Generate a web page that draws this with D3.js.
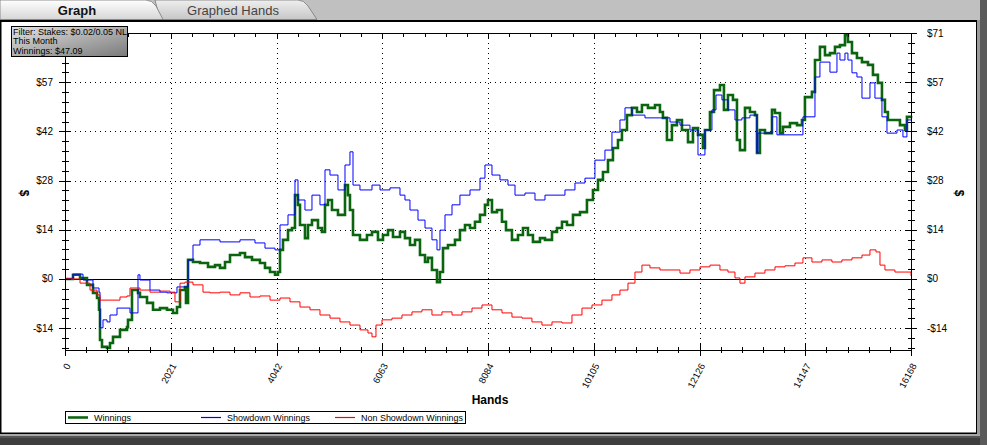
<!DOCTYPE html>
<html><head><meta charset="utf-8">
<script src="https://cdn.jsdelivr.net/npm/d3@7"></script>
<style>
html,body{margin:0;padding:0;background:#4a4a4a;overflow:hidden;}
svg{display:block;font-family:"Liberation Sans",Arial,sans-serif;}
</style></head>
<body>
<svg id="c" width="987" height="445"></svg>
<script>
// ---------- data ----------
const xTickValues = [0, 2021, 4042, 6063, 8084, 10105, 12126, 14147, 16168];
const xTickLabels = ["0", "2021", "4042", "6063", "8084", "10105", "12126", "14147", "16168"];
const yTickValues = [-14.2, 0, 14.2, 28.4, 42.6, 56.8, 71];
const yTickLabels = ["-$14", "$0", "$14", "$28", "$42", "$57", "$71"];
const seriesNames = ["Winnings", "Showdown Winnings", "Non Showdown Winnings"];
const filterLines = ["Filter: Stakes: $0.02/0.05 NL", "This Month", "Winnings: $47.09"];

const winHands = [0,153,287,420,535,612,650,669,707,803,860,917,1051,1185,1204,1280,1395,1433,1567,1682,1815,1949,2064,2140,2198,2293,2312,2351,2446,2580,2733,2867,2962,3058,3153,3249,3344,3440,3574,3726,3822,3918,4013,4070,4109,4166,4262,4338,4395,4453,4491,4586,4644,4720,4835,4911,4969,5026,5102,5217,5351,5408,5446,5504,5637,5771,5867,5981,6077,6173,6268,6402,6497,6593,6689,6784,6880,6937,7013,7109,7166,7224,7319,7453,7548,7644,7740,7835,7931,8026,8084,8160,8256,8351,8428,8542,8657,8752,8848,8943,9077,9173,9307,9402,9498,9593,9708,9842,9975,10090,10186,10281,10377,10472,10568,10644,10740,10835,10931,11026,11141,11275,11370,11427,11504,11599,11695,11791,11906,12001,12097,12192,12230,12326,12403,12517,12593,12670,12765,12842,12899,12995,13090,13186,13224,13281,13377,13511,13568,13664,13721,13855,13989,14084,14141,14275,14333,14428,14524,14619,14715,14810,14906,14963,15040,15135,15231,15346,15441,15536,15613,15670,15727,15823,15957,16052,16090,16168];
const winValues = [0,1.2,0.3,-1.7,-4,-5.5,-8.9,-17.6,-19.6,-19.9,-18.5,-16.7,-14.7,-13.9,-11.8,-3.2,-4,-5.2,-6.9,-8.9,-8.4,-8.9,-9.8,-8.1,-3.2,-2.3,-6.9,5.5,4.9,4.6,3.5,4,3.2,4.9,6.9,6.9,7.5,6.3,5.5,4.6,3.2,2,1.2,2,8.4,11.3,14.1,14.7,24.2,21.4,15.6,11.8,15.6,17,14.7,13.6,21.4,22.8,19.9,18.5,27.1,24.2,19.9,12.7,11.3,12.7,13.6,11.3,12.7,14.1,12.1,13.6,11.8,9.8,11.3,6.9,4.9,6.1,2.6,-0.9,2,8.9,9.8,11.3,14.1,15.6,14.7,16.5,18.5,21.4,22.8,19.3,19.9,16.5,14.1,11.3,12.7,14.7,12.7,10.7,11.8,11.3,13.6,14.7,16.5,15.6,18.5,19.3,22.8,25.7,28.6,30.9,34.3,37.8,40.1,43,47.3,49.4,48.2,50.2,49.4,50.2,48.2,46.5,40.1,44.4,45.9,43,39.5,43.6,41.6,37.8,43,48.2,54.5,56,48.8,53.1,51.7,40.1,37.2,49.4,48.2,47.3,36.4,43,42.1,48.8,47.9,42.1,43.9,45,44.4,45.9,52.5,54,63.2,67,64.6,65.2,67,67.5,70.4,68.4,65.2,63.8,62.6,61.8,58.9,56.6,51.7,48.2,45.9,45.9,44.4,43,46.8,47.1];

const sdHands = [0,153,344,535,650,669,726,803,860,994,1242,1395,1433,1624,1815,1949,2140,2351,2446,2580,2962,3344,3631,3822,4013,4109,4262,4395,4453,4586,4720,4873,4969,5064,5217,5351,5446,5504,5637,5867,6020,6211,6402,6497,6593,6746,6880,7013,7109,7166,7262,7396,7548,7740,7931,8026,8160,8313,8466,8600,8791,8982,9173,9364,9555,9746,9937,10128,10319,10453,10606,10702,10835,11084,11370,11562,11753,11944,12097,12230,12364,12441,12555,12670,12804,12937,13090,13224,13243,13511,13606,14103,14333,14428,14619,14753,14810,14906,14963,15040,15135,15231,15384,15479,15613,15709,15900,16014,16090,16168];
const sdValues = [0,1.4,-0.3,-2.6,-3.8,-14.1,-11.8,-12.4,-10.4,-8.4,-9.8,1.2,-0.3,-3.2,-3.8,-4,-2.3,5.5,9.8,11.3,10.7,11.3,10.4,8.9,8.4,15.6,18.5,28.6,22.8,19.9,24.2,21.4,31.5,30,25.7,32.9,36.7,27.1,25.7,27.1,25.7,26.3,24.2,22.8,19.9,17,14.7,11.3,8.4,14.1,18.5,21.4,24.2,25.7,29.1,32.9,30,28.6,27.1,24.2,24.8,22.8,24.2,24.2,25.7,27.7,29.1,34.3,37.2,42.4,45.9,49.4,47.3,46.5,46.5,45.3,44.4,43,35.8,43,48.8,53.1,51.7,48.8,45.9,46.5,47.3,36.4,42.1,46.8,41.6,46.8,58.3,62.6,59.7,65.2,63.2,65.2,63.2,59.5,58.3,52.2,56.6,52.2,46.8,42.1,43,41,45.9,45.9];

const nsdHands = [0,287,478,612,669,860,1051,1185,1242,1433,1624,1815,2007,2102,2198,2293,2446,2637,2771,2962,3153,3344,3535,3726,3918,4109,4300,4491,4682,4873,5064,5255,5446,5637,5790,5867,5943,6058,6249,6440,6631,6822,7013,7204,7396,7587,7778,7969,8160,8351,8542,8733,8924,9115,9307,9498,9689,9880,10071,10262,10453,10606,10759,10893,11026,11179,11370,11562,11753,11944,12135,12326,12517,12670,12804,12899,12995,13186,13377,13568,13759,13950,14103,14275,14466,14657,14848,15040,15231,15384,15499,15575,15670,15861,16052,16168];
const nsdValues = [0,-1.2,-3.2,-4.6,-6.1,-6.1,-5.2,-4.9,-2.6,-3.2,-3.8,-3.5,-3.8,-6.6,-1.2,-0.9,-1.7,-3.8,-4,-3.8,-4.6,-4,-5.2,-4.9,-6.1,-5.5,-6.6,-8.1,-8.9,-10.4,-11.3,-12.4,-13.3,-14.7,-15.6,-16.7,-13.3,-11.8,-11.3,-10.4,-9.5,-8.9,-10.4,-9.5,-10.4,-9.5,-8.4,-7.5,-8.9,-9.8,-11,-11.3,-12.4,-13.3,-12.4,-12.7,-10.4,-8.4,-7.5,-6.1,-4.6,-3.2,-1.2,2,4,3.2,2.6,2.6,1.7,2.6,3.5,4,2.6,2,0.3,-1.2,0.6,1.7,2.6,3.5,3.8,4.6,6.1,4.9,5.5,4.9,5.5,6.1,6.9,8.4,7.8,4,2.6,2,2,0.9];

// ---------- layout ----------
const svg = d3.select("#c");
const W = 987, H = 445;
const L = 65, R = 911, T = 33, B = 350;

// window chrome
svg.append("rect").attr("x",0).attr("y",0).attr("width",W).attr("height",H).attr("fill","#555");
svg.append("rect").attr("x",0).attr("y",0).attr("width",980).attr("height",20).attr("fill","#c0c0c0");
svg.append("rect").attr("x",980).attr("y",0).attr("width",7).attr("height",H).attr("fill","#5a5a5a");
svg.append("rect").attr("x",977).attr("y",20).attr("width",3).attr("height",416).attr("fill","#9a9a9a");
svg.append("rect").attr("x",0).attr("y",434).attr("width",980).attr("height",2).attr("fill","#a8a8a8");
svg.append("rect").attr("x",0).attr("y",438).attr("width",980).attr("height",7).attr("fill","#3e3e3e");
svg.append("rect").attr("x",0).attr("y",20).attr("width",977).attr("height",414).attr("fill","#000");
svg.append("rect").attr("x",1.5).attr("y",22).attr("width",974.5).attr("height",410.5).attr("fill","#fff");

// tabs
const defs = svg.append("defs");
const g1 = defs.append("linearGradient").attr("id","tabA").attr("x1",0).attr("y1",0).attr("x2",0).attr("y2",1);
g1.append("stop").attr("offset","0%").attr("stop-color","#ffffff");
g1.append("stop").attr("offset","100%").attr("stop-color","#d6d6d6");
const g2 = defs.append("linearGradient").attr("id","tabB").attr("x1",0).attr("y1",0).attr("x2",0).attr("y2",1);
g2.append("stop").attr("offset","0%").attr("stop-color","#efefef");
g2.append("stop").attr("offset","100%").attr("stop-color","#c6c6c6");
const g3 = defs.append("linearGradient").attr("id","filt").attr("x1",0).attr("y1",0).attr("x2",1).attr("y2",1);
g3.append("stop").attr("offset","0%").attr("stop-color","#e2e2e2");
g3.append("stop").attr("offset","100%").attr("stop-color","#7a7a7a");

svg.append("path").attr("d","M155,0 L298,0 Q304,0 308,6 L317,19.5 L160,19.5 Z")
  .attr("fill","url(#tabB)").attr("stroke","#777").attr("stroke-width",0.8);
svg.append("path").attr("d","M0,0 L146,0 Q152,0 156,6 L163,19.5 L0,19.5 Z")
  .attr("fill","url(#tabA)").attr("stroke","#777").attr("stroke-width",0.8);
svg.append("text").attr("x",77).attr("y",14.5).attr("text-anchor","middle")
  .attr("font-size",13).attr("font-weight","bold").attr("fill","#111").text("Graph");
svg.append("text").attr("x",233).attr("y",14.5).attr("text-anchor","middle")
  .attr("font-size",13).attr("fill","#444").text("Graphed Hands");

// scales
const x = d3.scaleLinear().domain([0, 16168]).range([L, R]);
const y = d3.scaleLinear().domain([-20.5, 71]).range([B, T]);

const xMinor = d3.range(0, 16168 + 1, 404.2);
const yMinor = d3.range(-19.88, 71.01, 2.84);

const plot = svg.append("g");

// gridlines (dotted)
plot.selectAll(".vg").data(xTickValues.slice(1, -1)).join("line")
  .attr("x1", d => Math.round(x(d)) + 0.5).attr("x2", d => Math.round(x(d)) + 0.5)
  .attr("y1", T).attr("y2", B).attr("stroke", "#000").attr("stroke-width", 1).attr("stroke-dasharray", "1,4");
plot.selectAll(".hg").data(yTickValues.filter(v => v !== 0 && v !== 71)).join("line")
  .attr("y1", d => Math.round(y(d)) + 0.5).attr("y2", d => Math.round(y(d)) + 0.5)
  .attr("x1", L).attr("x2", R).attr("stroke", "#000").attr("stroke-width", 1).attr("stroke-dasharray", "1,4");
// zero line
plot.append("line").attr("x1", L).attr("x2", R).attr("y1", Math.round(y(0)) + 0.5).attr("y2", Math.round(y(0)) + 0.5)
  .attr("stroke", "#000").attr("stroke-width", 1);

// series
const lineGen = (hs, curve) => d3.line().x((d, i) => x(hs[i])).y(d => y(d)).curve(curve);
plot.append("path").datum(winValues).attr("d", lineGen(winHands, d3.curveStepAfter))
  .attr("fill", "none").attr("stroke", "#0b650f").attr("stroke-width", 2.6).attr("stroke-linejoin", "miter").attr("stroke-miterlimit", 2);
plot.append("path").datum(sdValues).attr("d", lineGen(sdHands, d3.curveStepAfter))
  .attr("fill", "none").attr("stroke", "#0000ff").attr("stroke-width", 1);
plot.append("path").datum(nsdValues).attr("d", lineGen(nsdHands, d3.curveStepAfter))
  .attr("fill", "none").attr("stroke", "#ff0000").attr("stroke-width", 1);

// axes
const axisCol = "#000";
function xAxis(yPos, majLen, minLen, cross) {
  const g = svg.append("g");
  g.append("line").attr("x1", L).attr("x2", R).attr("y1", yPos + 0.5).attr("y2", yPos + 0.5).attr("stroke", axisCol);
  g.selectAll(".mi").data(xMinor).join("line")
    .attr("x1", d => Math.round(x(d)) + 0.5).attr("x2", d => Math.round(x(d)) + 0.5)
    .attr("y1", cross ? yPos - minLen : yPos).attr("y2", yPos + minLen).attr("stroke", axisCol);
  g.selectAll(".ma").data(xTickValues).join("line")
    .attr("x1", d => Math.round(x(d)) + 0.5).attr("x2", d => Math.round(x(d)) + 0.5)
    .attr("y1", cross ? yPos - majLen : yPos).attr("y2", yPos + majLen).attr("stroke", axisCol);
  return g;
}
xAxis(T, 6, 4, false);
xAxis(B, 6, 3, true);
svg.append("g").selectAll("text").data(xTickValues).join("text")
  .attr("transform", d => `translate(${x(d) + 3},${B + 14}) rotate(-62)`)
  .attr("text-anchor", "end").attr("dy", "0.35em").attr("font-size", 9.5).attr("fill", "#000")
  .text((d, i) => xTickLabels[i]);

function yAxis(xPos, labelsLeft) {
  const g = svg.append("g");
  g.append("line").attr("x1", xPos + 0.5).attr("x2", xPos + 0.5).attr("y1", T).attr("y2", B).attr("stroke", axisCol);
  g.selectAll(".mi").data(yMinor).join("line")
    .attr("y1", d => Math.round(y(d)) + 0.5).attr("y2", d => Math.round(y(d)) + 0.5)
    .attr("x1", xPos - 3).attr("x2", xPos + 4).attr("stroke", axisCol);
  g.selectAll(".ma").data(yTickValues).join("line")
    .attr("y1", d => Math.round(y(d)) + 0.5).attr("y2", d => Math.round(y(d)) + 0.5)
    .attr("x1", xPos - 6).attr("x2", xPos + 6).attr("stroke", axisCol);
  g.selectAll("text").data(yTickValues.filter(v => labelsLeft ? v !== 71 : true)).join("text")
    .attr("x", labelsLeft ? xPos - 12 : xPos + 16)
    .attr("y", d => y(d)).attr("dy", "0.35em")
    .attr("text-anchor", labelsLeft ? "end" : "start")
    .attr("font-size", 10).attr("fill", "#000")
    .text(d => yTickLabels[yTickValues.indexOf(d)]);
}
yAxis(L, true);
yAxis(R, false);

// axis titles
svg.append("text").attr("transform", `translate(20,193) rotate(90)`).attr("text-anchor", "middle")
  .attr("font-size", 12).attr("font-weight", "bold").text("$");
svg.append("text").attr("transform", `translate(955,193) rotate(90)`).attr("text-anchor", "middle")
  .attr("font-size", 12).attr("font-weight", "bold").text("$");
svg.append("text").attr("x", 490).attr("y", 404).attr("text-anchor", "middle")
  .attr("font-size", 12).attr("font-weight", "bold").text("Hands");

// legend
const leg = svg.append("g");
leg.append("rect").attr("x", 65.5).attr("y", 411.5).attr("width", 400).attr("height", 12)
  .attr("fill", "#fff").attr("stroke", "#000");
const legColors = ["#0b650f", "#0000ff", "#ff0000"];
const legWidths = [2.6, 1.2, 1.2];
const legX = [68, 201, 335];
const legTL = [37, 83, 102];
seriesNames.forEach((n, i) => {
  leg.append("line").attr("x1", legX[i]).attr("x2", legX[i] + 20).attr("y1", 417.5).attr("y2", 417.5)
    .attr("stroke", legColors[i]).attr("stroke-width", legWidths[i]);
  leg.append("text").attr("x", legX[i] + 26).attr("y", 421).attr("font-size", 9.5)
    .attr("textLength", legTL[i]).attr("lengthAdjust", "spacingAndGlyphs").text(n);
});

// filter box
const fb = svg.append("g");
fb.append("rect").attr("x", 11.5).attr("y", 26.5).attr("width", 116).attr("height", 30)
  .attr("fill", "url(#filt)").attr("stroke", "#000");
filterLines.forEach((t, i) => {
  fb.append("text").attr("x", 13).attr("y", 35 + i * 9.3).attr("font-size", 9).attr("fill", "#000").text(t);
});
</script>
</body></html>
